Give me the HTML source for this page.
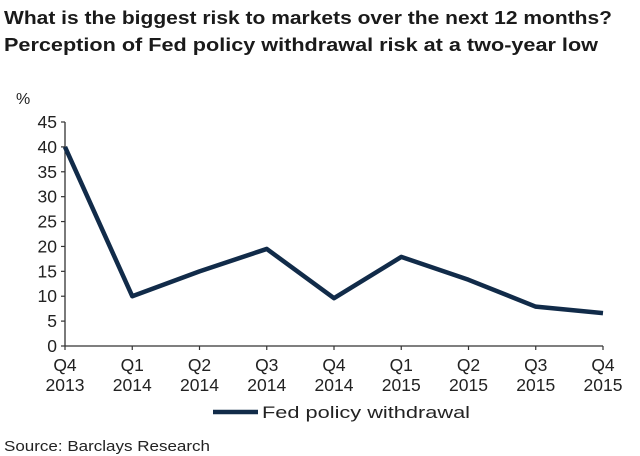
<!DOCTYPE html>
<html><head><meta charset="utf-8"><style>
body{margin:0;background:#fff;}
svg{display:block;font-family:"Liberation Sans",sans-serif;}
</style></head><body>
<svg width="640" height="456">
<text x="4" y="24" font-size="18.5" font-weight="bold" fill="#1a1a1a" textLength="608" lengthAdjust="spacingAndGlyphs">What is the biggest risk to markets over the next 12 months?</text>
<text x="4" y="51" font-size="18.5" font-weight="bold" fill="#1a1a1a" textLength="594" lengthAdjust="spacingAndGlyphs">Perception of Fed policy withdrawal risk at a two-year low</text>
<text x="16" y="104" font-size="16" fill="#222">%</text>
<g id="axes"></g>
<g id="marks"></g>
<line x1="213" y1="412" x2="258" y2="412" stroke="#112b49" stroke-width="4.5"/>
<text x="262" y="418" font-size="16.5" fill="#222" textLength="208" lengthAdjust="spacingAndGlyphs">Fed policy withdrawal</text>
<text x="4" y="451" font-size="15" fill="#222" textLength="206" lengthAdjust="spacingAndGlyphs">Source: Barclays Research</text>
</svg>
<script>
const categories=["Q4|2013","Q1|2014","Q2|2014","Q3|2014","Q4|2014","Q1|2015","Q2|2015","Q3|2015","Q4|2015"];
const values=[40,10,15,19.5,9.6,17.9,13.3,7.9,6.6];
const yTicks=[0,5,10,15,20,25,30,35,40,45];
const NS="http://www.w3.org/2000/svg";
const x0=65,x1=603,yBase=346,yTop=122,yMax=45;
const xs=i=>x0+(x1-x0)*i/(categories.length-1);
const ys=v=>yBase-(yBase-yTop)*v/yMax;
const axes=document.getElementById('axes'),marks=document.getElementById('marks');
function mk(tag,attrs,parent){const e=document.createElementNS(NS,tag);for(const k in attrs)e.setAttribute(k,attrs[k]);parent.appendChild(e);return e;}
let e=mk('line',{x1:x0,y1:yTop,x2:x0,y2:yBase,stroke:'#333','stroke-width':1.3},axes);


e=mk('line',{x1:x0,y1:yBase,x2:x1,y2:yBase,stroke:'#333','stroke-width':1.3},axes);


yTicks.forEach(t=>{
  const y=ys(t);
  let l=mk('line',{x1:x0-4,y1:y,x2:x0,y2:y,stroke:'#333','stroke-width':1.2},axes);
  
  
  let tx=mk('text',{x:x0-8,y:y+6,'text-anchor':'end','font-size':17.5,fill:'#222'},axes);
  tx.textContent=t;
  
  
});
categories.forEach((c,i)=>{
  const x=xs(i);
  let l=mk('line',{x1:x,y1:yBase,x2:x,y2:yBase+4,stroke:'#333','stroke-width':1.2},axes);
  
  
  const [a,b]=c.split('|');
  let t1=mk('text',{x:x,y:yBase+25,'text-anchor':'middle','font-size':17.5,fill:'#222'},axes);
  t1.textContent=a;
  
  
  let t2=mk('text',{x:x,y:yBase+45,'text-anchor':'middle','font-size':17.5,fill:'#222'},axes);
  t2.textContent=b;
  
  
});
const pts=values.map((v,i)=>xs(i)+','+ys(v)).join(' ');
const pl=mk('polyline',{points:pts,fill:'none',stroke:'#112b49','stroke-width':4.5,'stroke-linejoin':'round'},marks);


</script>
</body></html>
